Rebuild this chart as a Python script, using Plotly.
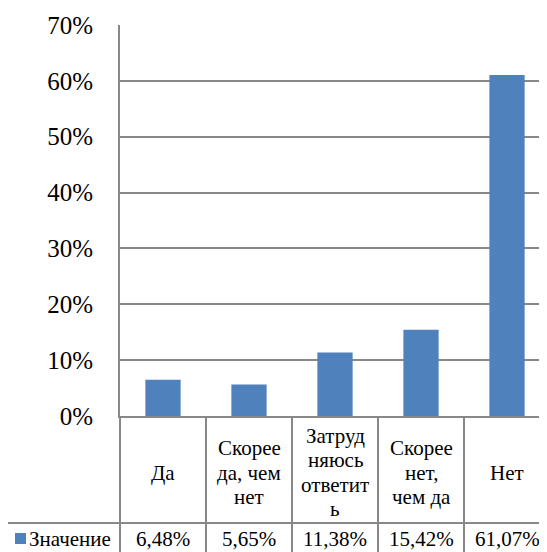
import plotly.graph_objects as go

categories = ["Да", "Скорее да, чем нет", "Затрудняюсь ответить", "Скорее нет, чем да", "Нет"]
category_labels = ["Да", "Скорее<br>да, чем<br>нет", "Затруд<br>няюсь<br>ответит<br>ь", "Скорее<br>нет,<br>чем да", "Нет"]
values = [0.0648, 0.0565, 0.1138, 0.1542, 0.6107]
value_labels = ["6,48%", "5,65%", "11,38%", "15,42%", "61,07%"]
series_name = "Значение"
y_ticks = [0, 0.1, 0.2, 0.3, 0.4, 0.5, 0.6, 0.7]

OFF = 8  # page body margin
W, H = 547 - OFF, 552 - OFF
L, T = 120 - OFF, 25 - OFF
ZERO_Y = 416  # page coordinates
PH = ZERO_Y - 25
PW = 547 - 120
FONT = "Liberation Serif"
GRID = "#888888"
BLUE = "#4F81BD"
TABLE_FS = 21
LINE_H = 24.3


def py(Y):
    return (ZERO_Y - Y) / PH


def px(X):
    return (X - 120) / PW


x_idx = list(range(len(categories)))

fig = go.Figure()
fig.add_trace(go.Bar(x=x_idx, y=values, marker=dict(color=BLUE, line=dict(width=0)),
                     name=series_name, width=0.41, showlegend=False))

shapes = []
annotations = []
for i in range(len(categories)):
    shapes.append(dict(type="line", xref="x", yref="paper", x0=i + 0.5, x1=i + 0.5,
                       y0=py(ZERO_Y), y1=py(560), line=dict(color=GRID, width=2)))
shapes.append(dict(type="line", xref="paper", yref="paper", x0=0, x1=0,
                   y0=py(ZERO_Y), y1=py(560), line=dict(color=GRID, width=2)))
shapes.append(dict(type="line", xref="paper", yref="paper", x0=px(6), x1=1,
                   y0=py(523), y1=py(523), line=dict(color=GRID, width=2)))
shapes.append(dict(type="line", xref="paper", yref="paper", x0=px(6), x1=px(6),
                   y0=py(523), y1=py(560), line=dict(color=GRID, width=2)))
shapes.append(dict(type="rect", xref="paper", yref="paper", x0=px(15), x1=px(26),
                   y0=py(544), y1=py(533), fillcolor=BLUE, line=dict(width=0)))

for i, (lab, vl) in enumerate(zip(category_labels, value_labels)):
    lines = lab.split("<br>")
    n = len(lines)
    for k, ln in enumerate(lines):
        yc = 472.5 + (k - (n - 1) / 2) * LINE_H
        annotations.append(dict(x=i, xref="x", y=py(yc), yref="paper", text=ln, showarrow=False,
                                xanchor="center", yanchor="middle",
                                font=dict(size=TABLE_FS)))
    annotations.append(dict(x=i, xref="x", y=py(539), yref="paper", text=vl, showarrow=False,
                            xanchor="center", yanchor="middle",
                            font=dict(size=TABLE_FS)))
annotations.append(dict(x=px(27), xref="paper", y=py(539), yref="paper", text=series_name,
                        showarrow=False, xanchor="left", yanchor="middle",
                        font=dict(size=TABLE_FS)))

fig.update_layout(
    template="none",
    font=dict(family=FONT, color="#000000"),
    width=W, height=H,
    margin=dict(l=L, r=0, t=T, b=552 - ZERO_Y, pad=0),
    paper_bgcolor="white", plot_bgcolor="white",
    shapes=shapes, annotations=annotations,
    xaxis=dict(range=[-0.5, 4.465], showticklabels=False, showgrid=False, zeroline=False,
               showline=True, linecolor=GRID, linewidth=2, ticks=""),
    yaxis=dict(range=[0, 0.7], tickvals=y_ticks, tickformat=".0%", showgrid=True,
               gridcolor=GRID, gridwidth=2, zeroline=False, showline=True, linecolor=GRID,
               linewidth=2, ticks="", ticklabelstandoff=20,
               tickfont=dict(size=25)),
)

fig.write_html("out.html")
